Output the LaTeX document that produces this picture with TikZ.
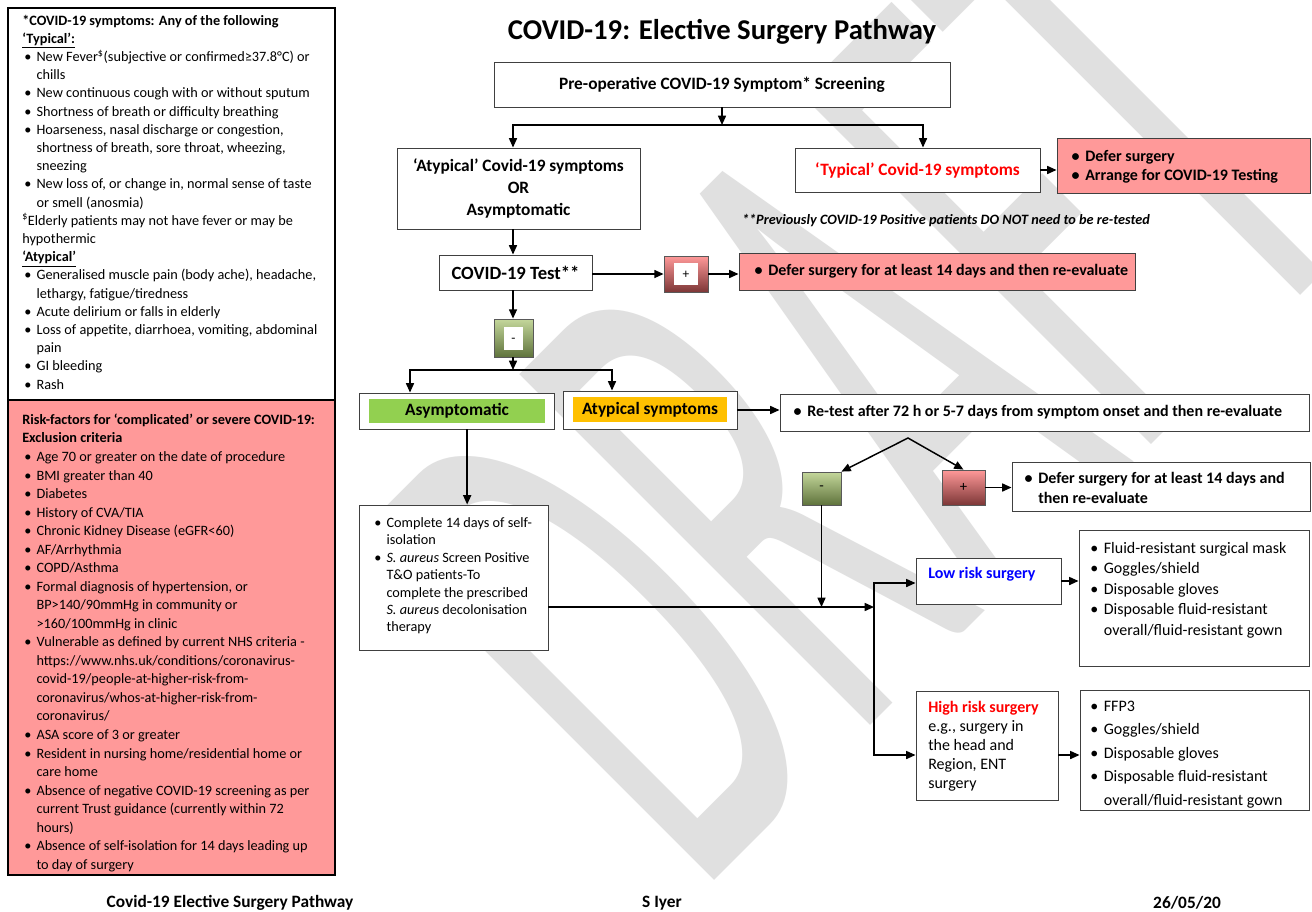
\documentclass[tikz,border=0pt]{standalone}
\usepackage{fontspec}
\usepackage{graphicx}
\setmainfont{Carlito}
\usetikzlibrary{arrows.meta}

\definecolor{pinkfill}{RGB}{255,153,153}
\definecolor{plusdark}{RGB}{125,55,55}
\definecolor{minuslight}{RGB}{196,215,155}
\definecolor{minusdark}{RGB}{95,115,60}
\definecolor{asymgreen}{RGB}{146,208,80}
\definecolor{atysorange}{RGB}{255,192,0}
\definecolor{boxline}{RGB}{64,64,64}
\definecolor{wmgray}{RGB}{224,224,224}

\newcommand{\itm}{\makebox[1em][l]{\hspace{0.15em}\textbullet}}
\newcommand{\cont}{\hspace*{1em}}
\newcommand{\fsbody}{\fontsize{10.7pt}{13.65pt}\selectfont}
\newcommand{\signtile}[3]{{\setlength{\fboxsep}{0pt}\colorbox{white}{\makebox[#1]{\rule[\dimexpr 3.5pt-#2/2\relax]{0pt}{#2}#3}}}}

\tikzset{
  panel/.style={draw=black, line width=1.8pt, inner sep=0pt},
  flowbox/.style={draw=boxline, line width=0.7pt, fill=white, inner sep=0pt},
  bigtext/.style={font=\bfseries\fontsize{13pt}{16.5pt}\selectfont, align=center},
  midtext/.style={font=\bfseries\fontsize{12pt}{14.5pt}\selectfont},
  signbox/.style={draw=black!65, line width=0.6pt, inner sep=0pt},
  posbox/.style={signbox, top color=pinkfill, bottom color=plusdark},
  negbox/.style={signbox, top color=minuslight, bottom color=minusdark},
  arr/.style={-{Triangle[length=7pt,width=6pt]}, line width=1.1pt},
  arr2/.style={{Triangle[length=7pt,width=6pt]}-{Triangle[length=7pt,width=6pt]}, line width=1.1pt},
  conn/.style={line width=1.1pt},
  txt/.style={inner sep=0pt, align=left}
}

\begin{document}
\begin{tikzpicture}[x=0.75pt, y=-0.75pt]
\useasboundingbox (0,0) rectangle (1312,911);
\fill[white] (0,0) rectangle (1312,911);

% Watermark
\node[rotate=45, text=wmgray, inner sep=0pt] (draftmark) at (860,385)
  {\scalebox{0.46}[1]{\fontsize{580pt}{580pt}\selectfont DRAFT}};

% Left panel: symptoms
\node[panel, fill=white, minimum width=245.25pt, minimum height=294pt] (symp) at (171.5,204) {};
\node[txt, anchor=north west, font=\fsbody] (symptxt) at (22,14.6) {%
\textbf{*COVID-19 symptoms: Any of the following}\\
\textbf{\underline{‘Typical’:}}\\
\itm New Fever\textsuperscript{\$}(subjective or confirmed≥37.8°C) or\\
\cont chills\\
\itm New continuous cough with or without sputum\\
\itm Shortness of breath or difficulty breathing\\
\itm Hoarseness, nasal discharge or congestion,\\
\cont shortness of breath, sore throat, wheezing,\\
\cont sneezing\\
\itm New loss of, or change in, normal sense of taste\\
\cont or smell (anosmia)\\
\textsuperscript{\$}Elderly patients may not have fever or may be\\
hypothermic\\
\textbf{\underline{‘Atypical’}}\\
\itm Generalised muscle pain (body ache), headache,\\
\cont lethargy, fatigue/tiredness\\
\itm Acute delirium or falls in elderly\\
\itm Loss of appetite, diarrhoea, vomiting, abdominal\\
\cont pain\\
\itm GI bleeding\\
\itm Rash};

% Left panel: risk factors
\node[panel, fill=pinkfill, minimum width=245.25pt, minimum height=356.25pt] (risk) at (171.5,637.5) {};
\node[txt, anchor=north west, font=\fontsize{10.7pt}{13.9pt}\selectfont] (risktxt) at (22,413.6) {%
\textbf{Risk-factors for ‘complicated’ or severe COVID-19:}\\
\textbf{Exclusion criteria}\\
\itm Age 70 or greater on the date of procedure\\
\itm BMI greater than 40\\
\itm Diabetes\\
\itm History of CVA/TIA\\
\itm Chronic Kidney Disease (eGFR<60)\\
\itm AF/Arrhythmia\\
\itm COPD/Asthma\\
\itm Formal diagnosis of hypertension, or\\
\cont BP>140/90mmHg in community or\\
\cont >160/100mmHg in clinic\\
\itm Vulnerable as defined by current NHS criteria -\\
\cont https://www.nhs.uk/conditions/coronavirus-\\
\cont covid-19/people-at-higher-risk-from-\\
\cont coronavirus/whos-at-higher-risk-from-\\
\cont coronavirus/\\
\itm ASA score of 3 or greater\\
\itm Resident in nursing home/residential home or\\
\cont care home\\
\itm Absence of negative COVID-19 screening as per\\
\cont current Trust guidance (currently within 72\\
\cont hours)\\
\itm Absence of self-isolation for 14 days leading up\\
\cont to day of surgery};

% Title
\node[font=\bfseries\fontsize{21.5pt}{26pt}\selectfont] (title) at (722,32) {COVID-19: Elective Surgery Pathway};

% Screening and first split
\node[flowbox, bigtext, minimum width=342pt, minimum height=33.75pt] (pre) at (722,84.5) {Pre-operative COVID-19 Symptom* Screening};
\node[flowbox, bigtext, minimum width=182.25pt, minimum height=60.75pt] (atyp) at (518.5,188.5) {‘Atypical’ Covid-19 symptoms\\OR\\Asymptomatic};
\node[flowbox, bigtext, text=red, minimum width=183.75pt, minimum height=33pt] (typ) at (917.5,170) {‘Typical’ Covid-19 symptoms};
\node[flowbox, fill=pinkfill, minimum width=189.75pt, minimum height=41.25pt] (dfr) at (1183.5,165.5) {};
\node[txt, midtext, anchor=west] (dfrtxt) at (1069,166.5) {\itm Defer surgery\\\itm Arrange for COVID-19 Testing};
\node[font=\bfseries\itshape\fontsize{10.7pt}{13pt}\selectfont] (note) at (946,221) {**Previously COVID-19 Positive patients DO NOT need to be re-tested};

\coordinate (barL) at (513,125);
\coordinate (barM) at (722,125);
\coordinate (barR) at (923,125);
\draw[arr] (pre.south) -- (barM);
\draw[arr2] (barL |- atyp.north) -- (barL) -- (barR) -- (barR |- typ.north);
\draw[arr] (typ.east) -- (typ.east -| dfr.west);

% Test
\node[flowbox, bigtext, font=\bfseries\fontsize{14pt}{16pt}\selectfont, minimum width=114.75pt, minimum height=26.25pt] (test) at (515.5,272.5) {COVID-19 Test**};
\node[posbox, minimum width=33pt, minimum height=27pt] (plus) at (686,274) {\signtile{18pt}{16.5pt}{+}};
\node[flowbox, fill=pinkfill, minimum width=297pt, minimum height=27.75pt] (dfr14) at (937,271.5) {};
\node[txt, midtext, anchor=west] (dfr14txt) at (752,271.5) {\itm Defer surgery for at least 14 days and then re-evaluate};
\node[negbox, minimum width=29.25pt, minimum height=28.5pt] (minus) at (513.5,338) {\signtile{14.25pt}{17.25pt}{-}};

\draw[arr] (atyp.south -| barL) -- (test.north -| barL);
\draw[arr] (test.east |- plus) -- (plus.west);
\draw[arr] (plus.east) -- (plus.east -| dfr14.west);
\draw[arr] (test.south -| barL) -- (minus.north -| barL);

% Negative result
\node[flowbox, minimum width=146.25pt, minimum height=27pt] (asym) at (456.5,411) {};
\node[fill=asymgreen, bigtext, inner sep=0pt, minimum width=132pt, minimum height=18pt] (asymtag) at (457,411) {Asymptomatic};
\node[flowbox, minimum width=130.5pt, minimum height=28.5pt] (atys) at (650,410) {};
\node[fill=atysorange, bigtext, inner sep=0pt, minimum width=115.5pt, minimum height=18.75pt] (atystag) at (650,409.5) {Atypical symptoms};

\coordinate (splitL) at (410,370);
\coordinate (splitM) at (513,370);
\coordinate (splitR) at (612,370);
\draw[arr] (minus.south -| barL) -- (splitM);
\draw[arr2] (splitL |- asym.north) -- (splitL) -- (splitR) -- (splitR |- atys.north);

% Re-test
\node[flowbox, minimum width=396.75pt, minimum height=27.75pt] (retest) at (1044.5,412.5) {};
\node[txt, midtext, anchor=west] (retesttxt) at (791,412.5) {\itm Re-test after 72 h or 5-7 days from symptom onset and then re-evaluate};
\draw[arr] (atys.east) -- (atys.east -| retest.west);

\node[negbox, minimum width=29.25pt, minimum height=24.75pt, font=\fontsize{11pt}{13pt}\selectfont] (minus2) at (821.5,488.5) {-};
\node[posbox, minimum width=32.25pt, minimum height=26.25pt, font=\fontsize{11pt}{13pt}\selectfont] (plus2) at (963.5,487.5) {+};
\node[flowbox, minimum width=223.5pt, minimum height=36.75pt] (dfr2) at (1161,486.5) {};
\node[txt, anchor=west, font=\bfseries\fontsize{12pt}{15pt}\selectfont] (dfr2txt) at (1022,487.5) {\itm Defer surgery for at least 14 days and\\\cont then re-evaluate};

\coordinate (fork) at (908,438);
\draw[arr2] (minus2.north east) -- (fork) -- (plus2.north);
\draw[arr] (plus2.east) -- (plus2.east -| dfr2.west);

% Self-isolation
\node[flowbox, minimum width=141.75pt, minimum height=108.75pt] (iso) at (453.5,577.5) {};
\node[txt, anchor=north west, font=\fontsize{10.7pt}{13.1pt}\selectfont] (isotxt) at (372,517) {%
\itm Complete 14 days of self-\\
\cont isolation\\
\itm \textit{S. aureus} Screen Positive\\
\cont T\&O patients-To\\
\cont complete the prescribed\\
\cont \textit{S. aureu}s decolonisation\\
\cont therapy};
\draw[arr] ([xshift=8pt]asym.south) -- ([xshift=8pt]asym.south |- iso.north);

% Surgery risk
\coordinate (merge) at (874,607);
\coordinate (lobr) at (874,583);
\coordinate (hibr) at (874,755);
\draw[arr] (iso.east |- merge) -- (merge);
\draw[arr] (minus2.south) -- (minus2.south |- merge);

\node[flowbox, minimum width=108.75pt, minimum height=34.5pt] (lo) at (988.5,581) {};
\node[txt, midtext, text=blue, anchor=west] (lotxt) at (928,574) {Low risk surgery};
\node[flowbox, minimum width=106.5pt, minimum height=81.75pt] (hi) at (987,745.5) {};
\node[txt, anchor=north west, font=\fontsize{12pt}{14.25pt}\selectfont] (hitxt) at (928,701) {%
\textbf{\color{red}High risk surgery}\\
e.g., surgery in\\
the head and\\
Region, ENT\\
surgery};
\draw[arr2] (lobr -| lo.west) -- (lobr) -- (hibr) -- (hibr -| hi.west);

% PPE
\node[flowbox, minimum width=172.5pt, minimum height=102pt] (ppe1) at (1194,598) {};
\node[txt, anchor=north west, font=\fontsize{12pt}{15.4pt}\selectfont] (ppe1txt) at (1087.6,542) {%
\itm Fluid-resistant surgical mask\\
\itm Goggles/shield\\
\itm Disposable gloves\\
\itm Disposable fluid-resistant\\
\cont overall/fluid-resistant gown};
\node[flowbox, minimum width=171.75pt, minimum height=90pt] (ppe2) at (1194.5,750) {};
\node[txt, anchor=north west, font=\fontsize{12pt}{17.6pt}\selectfont] (ppe2txt) at (1087.6,700.5) {%
\itm FFP3\\
\itm Goggles/shield\\
\itm Disposable gloves\\
\itm Disposable fluid-resistant\\
\cont overall/fluid-resistant gown};
\draw[arr] (lo.east) -- (lo.east -| ppe1.west);
\draw[arr] (hibr -| hi.east) -- (hibr -| ppe2.west);

% Footer
\node[font=\bfseries\fontsize{13pt}{15pt}\selectfont] (foottitle) at (230,903) {Covid-19 Elective Surgery Pathway};
\node[font=\bfseries\fontsize{13pt}{15pt}\selectfont] (footauthor) at (662,903) {S Iyer};
\node[font=\bfseries\fontsize{13pt}{15pt}\selectfont] (footdate) at (1187,903) {26/05/20};

\end{tikzpicture}
\end{document}
